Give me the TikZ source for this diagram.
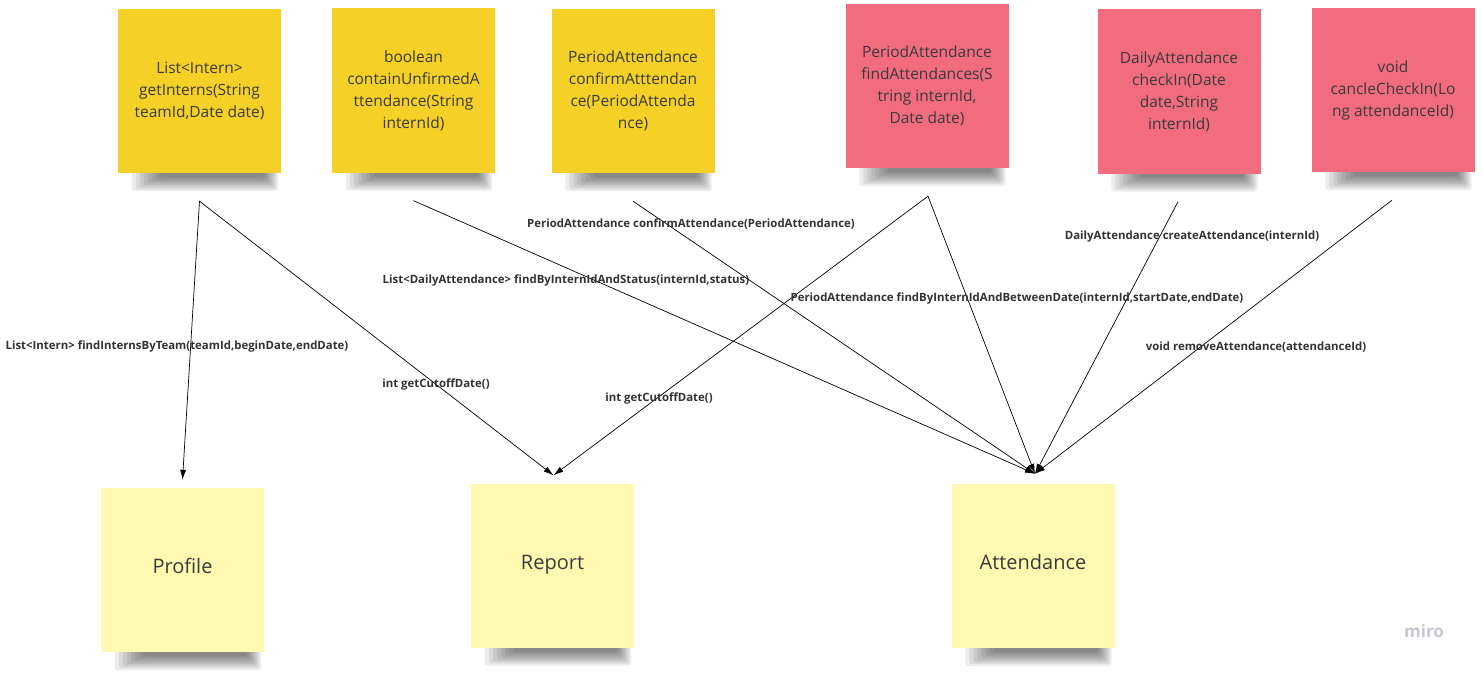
\documentclass[tikz,border=0pt]{standalone}
\usepackage{fontspec}
\setmainfont{Open Sans}
\usetikzlibrary{arrows.meta,backgrounds,calc}
\definecolor{stickyY}{HTML}{F5D128}
\definecolor{stickyR}{HTML}{F16C7F}
\definecolor{stickyL}{HTML}{FFF9B1}
\definecolor{txt}{HTML}{3A3A3A}
\definecolor{lbl}{HTML}{333333}
\definecolor{mirogray}{HTML}{C6C8D1}
\newcommand\stickyshadow[1]{%
  \foreach \k in {0,...,7}{%
    \fill[black,opacity=0.075,rounded corners=3pt] ($(#1.south west)+(14+4*\k,-6)$) rectangle ($(#1.south east)+(-3-2*\k,18-2*\k)$);
  }}
\begin{document}
\begin{tikzpicture}[x=1pt,y=-1pt,
  sticky/.style={minimum width=163pt, minimum height=164pt, inner sep=0pt, align=center,
    text=txt, font=\fontsize{15.5}{22}\selectfont},
  topY/.style={sticky, fill=stickyY},
  topR/.style={sticky, fill=stickyR},
  comp/.style={sticky, fill=stickyL, font=\fontsize{20}{24}\selectfont},
  call/.style={draw=black, line width=0.7pt, -{Latex[length=10pt,width=6pt]}},
  lab/.style={text=lbl, inner sep=0pt, font=\bfseries\fontsize{11.4}{13}\selectfont}
]
\begin{scope}[on background layer]
  \fill[white] (0,0) rectangle (1483,674);
\end{scope}
\useasboundingbox (0,0) rectangle (1483,674);

% top stickies
\node[topY] (n1) at (199.5,91)   {List<Intern>\\getInterns(String\\teamId,Date date)};
\node[topY] (n2) at (413.5,90.5) {boolean\\containUnfirmedA\\ttendance(String\\internId)};
\node[topY] (n3) at (633,91)     {PeriodAttendance\\confirmAtttendan\\ce(PeriodAttenda\\nce)};
\node[topR] (n4) at (927,86)     {PeriodAttendance\\findAttendances(S\\tring internId,\\Date date)};
\node[topR] (n5) at (1179,91.5)  {DailyAttendance\\checkIn(Date\\date,String\\internId)};
\node[topR] (n6) at (1393,90)    {void\\cancleCheckIn(Lo\\ng attendanceId)};

% bottom components
\node[comp] (profile)    at (182.5,570)   {Profile\\[-16pt]};
\node[comp] (report)     at (552.5,565.5) {Report\\[-18pt]};
\node[comp] (attendance) at (1033,566)    {Attendance\\[-16pt]};

\begin{scope}[on background layer]
  \stickyshadow{n1}\stickyshadow{n2}\stickyshadow{n3}
  \stickyshadow{n4}\stickyshadow{n5}\stickyshadow{n6}
  \stickyshadow{profile}\stickyshadow{report}\stickyshadow{attendance}
\end{scope}

% connector ends
\coordinate (s1) at ($(n1.south)+(0,28)$);
\coordinate (s2) at ($(n2.south)+(0,28)$);
\coordinate (s3) at ($(n3.south)+(0,28)$);
\coordinate (s4) at ($(n4.south)+(1,28)$);
\coordinate (s5) at ($(n5.south)+(-1,28)$);
\coordinate (s6) at ($(n6.south)+(-1,28)$);
\coordinate (pIn) at ($(profile.north)+(0,-8)$);
\coordinate (rIn) at ($(report.north)+(1,-8)$);
\coordinate (aIn) at ($(attendance.north)+(2,-10)$);

\draw[call] (s1) -- (pIn);
\draw[call] (s1) -- (rIn);
\draw[call] (s2) -- (aIn);
\draw[call] (s3) -- (aIn);
\draw[call] (s4) -- (rIn);
\draw[call] (s4) -- (aIn);
\draw[call] (s5) -- (aIn);
\draw[call] (s6) -- (aIn);

% labels
\node[lab] (l1) at (177,347)  {List<Intern> findInternsByTeam(teamId,beginDate,endDate)};
\node[lab] (l2) at (436,385)  {int getCutoffDate()};
\node[lab] (l3) at (566,281)  {List<DailyAttendance> findByInternIdAndStatus(internId,status)};
\node[lab] (l4) at (691,224)  {PeriodAttendance confirmAttendance(PeriodAttendance)};
\node[lab] (l5) at (659,399)  {int getCutoffDate()};
\node[lab] (l6) at (1017,299) {PeriodAttendance findByInternIdAndBetweenDate(internId,startDate,endDate)};
\node[lab] (l7) at (1192,237) {DailyAttendance createAttendance(internId)};
\node[lab] (l8) at (1256,347) {void removeAttendance(attendanceId)};

\node[text=mirogray, font=\bfseries\fontsize{17}{20}\selectfont, inner sep=0pt] (miro) at (1424,631) {miro};
\end{tikzpicture}
\end{document}
